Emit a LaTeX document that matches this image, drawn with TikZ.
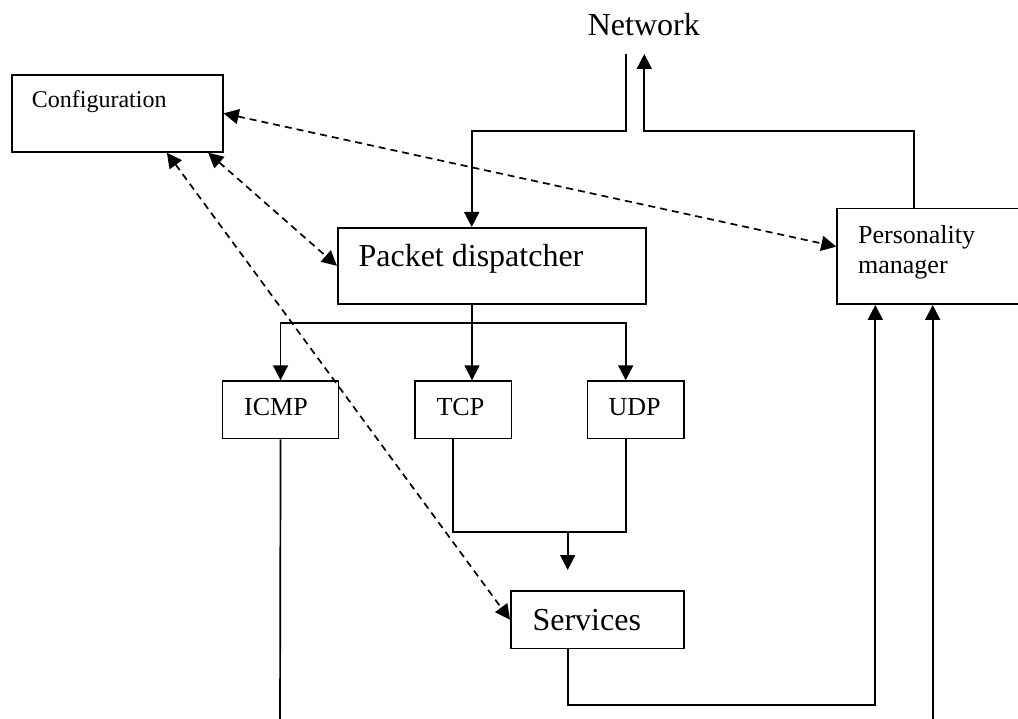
\documentclass[tikz,border=0pt]{standalone}
\usepackage{fontspec}
\setmainfont{Liberation Serif}
\usetikzlibrary{arrows.meta,calc}
\newcommand\fsLarge{\fontsize{32}{38}\selectfont}
\newcommand\fsMed{\fontsize{26}{30}\selectfont}
\newcommand\fsSmall{\fontsize{24}{28}\selectfont}
\begin{document}
\begin{tikzpicture}[x=1pt,y=-1pt,line width=1.7pt,
  box/.style={draw,rectangle,inner sep=0pt,anchor=north west},
  lbl/.style={anchor=base west,inner sep=0pt},
  arr/.style={-{Triangle[length=15pt,width=15pt]}},
  darr/.style={dash pattern=on 7pt off 5pt,
    {Triangle[length=15pt,width=15pt]}-{Triangle[length=15pt,width=15pt]}}]
\useasboundingbox (0,0) rectangle (1018,719);
\clip (0,0) rectangle (1018,719);

% boxes
\node[box,minimum width=211pt,minimum height=77pt] (config) at (11,74) {};
\node[box,minimum width=308pt,minimum height=76pt] (pd) at (337,227) {};
\node[box,minimum width=200pt,minimum height=95.6pt] (pm) at (836.3,207.7) {};
\node[box,minimum width=116pt,minimum height=57.4pt] (icmp) at (221.7,380.3) {};
\node[box,minimum width=96.7pt,minimum height=57.4pt] (tcp) at (414,380.3) {};
\node[box,minimum width=96.6pt,minimum height=57.4pt] (udp) at (586.7,380.3) {};
\node[box,minimum width=173.3pt,minimum height=57.7pt] (svc) at (510,590) {};

% labels
\node[lbl,font=\fsLarge] (net) at (587,36) {Network};
\node[lbl,font=\fsSmall] (configtxt) at (31,107.3) {Configuration};
\node[lbl,font=\fsLarge] (pdtxt) at (357.7,266.7) {Packet dispatcher};
\node[lbl,font=\fsMed,align=left] (pmtxt) at (857.3,273.3) {Personality\\manager};
\node[lbl,font=\fsMed] (icmptxt) at (243.3,416) {ICMP};
\node[lbl,font=\fsMed] (tcptxt) at (435.7,416) {TCP};
\node[lbl,font=\fsMed] (udptxt) at (607.7,416) {UDP};
\node[lbl,font=\fsLarge] (svctxt) at (531.7,630) {Services};

% routing points
\coordinate (nIn) at (625.7,54);
\coordinate (nOut) at (644.3,54);
\coordinate (bendL) at (471.7,131);
\coordinate (bendR) at (913.7,131);
\coordinate (bus) at (472,323.3);
\coordinate (tUdp) at (625.7,323.3);
\coordinate (tcpOut) at (452.7,532.3);
\coordinate (udpOut) at (625.7,532.3);
\coordinate (merge) at (567.7,532.3);
\coordinate (svcIn) at (567.7,570);
\coordinate (pmA) at (875.3,705);
\coordinate (pmB) at (932.7,730);
\coordinate (icmpEnd) at (280,730);

% network traffic
\draw[arr] (nIn) |- (bendL) -- (pd.north -| bendL);
\draw[arr] (pm.north -| bendR) -- (bendR) -- (bendR -| nOut) -- (nOut);

% dispatcher to protocol handlers
\draw (pd.south -| bus) -- (bus);
\draw[arr] (bus) -- (tcp.north -| bus);
\draw[arr] (bus) -| (icmp.north);
\draw[arr] (bus) -- (tUdp) -- (udp.north -| tUdp);

% protocol handlers to services
\draw (tcp.south -| tcpOut) -- (tcpOut) -- (udpOut) -- (udp.south -| udpOut);
\draw[arr] (merge) -- (svcIn);

% replies to the personality manager
\draw[arr] (svc.south -| merge) |- (pmA) -- (pm.south -| pmA);
\draw[arr] (pmB) -- (pm.south -| pmB);
\draw (icmp.south) -- (icmpEnd);

% configuration links
\draw[darr] (config.east) -- ($(pm.north west)!0.4!(pm.south west)$);
\draw[darr] ($(config.south west)!0.927!(config.south east)$) -- (pd.west);
\draw[darr] ($(config.south west)!0.733!(config.south east)$) -- (svc.west);
\end{tikzpicture}
\end{document}
